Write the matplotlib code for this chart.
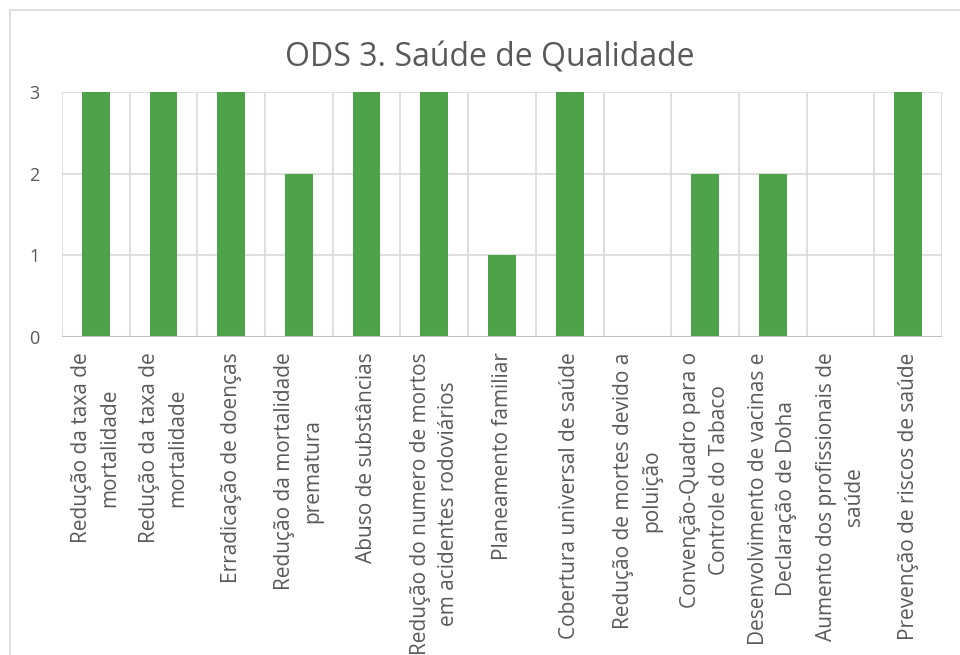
import matplotlib.pyplot as plt
from matplotlib.patches import Rectangle

categories = [
    "Redução da taxa de\nmortalidade",
    "Redução da taxa de\nmortalidade",
    "Erradicação de doenças",
    "Redução da mortalidade\nprematura",
    "Abuso de substâncias",
    "Redução do numero de mortos\nem acidentes rodoviários",
    "Planeamento familiar",
    "Cobertura universal de saúde",
    "Redução de mortes devido a\npoluição",
    "Convenção-Quadro para o\nControle do Tabaco",
    "Desenvolvimento de vacinas e\nDeclaração de Doha",
    "Aumento dos profissionais de\nsaúde",
    "Prevenção de riscos de saúde",
]
values = [3, 3, 3, 2, 3, 3, 1, 3, 0, 2, 2, 0, 3]
yticks = [0, 1, 2, 3]

plt.rcParams['font.family'] = ['Open Sans', 'DejaVu Sans']
grid_col = '#d9d9d9'
text_col = '#595959'

fig = plt.figure(figsize=(9.6, 6.55), dpi=100)

# chart border (Excel style)
fig.patches.append(Rectangle((10 / 960, -0.1), 1.1, 0.1 + (655 - 10) / 655,
                             transform=fig.transFigure, fill=False,
                             edgecolor=grid_col, linewidth=1.2))

ax = fig.add_axes([62 / 960, (655 - 337) / 655, 880 / 960, 245 / 655])
x = range(len(categories))
ax.bar(x, values, width=0.41, color='#4ea34a', zorder=3)

ax.set_xlim(-0.5, len(categories) - 0.5)
ax.set_ylim(0, 3)
ax.set_yticks(yticks)
ax.set_yticklabels([str(v) for v in yticks], fontsize=13, color=text_col)

# horizontal gridlines
for v in yticks[1:]:
    ax.axhline(v, color=grid_col, linewidth=1.2, zorder=1)
# vertical gridlines between categories
for b in range(len(categories) + 1):
    ax.axvline(b - 0.5, color=grid_col, linewidth=1.2, zorder=1)

for s in ax.spines.values():
    s.set_visible(False)
ax.axhline(0, color='#bfbfbf', linewidth=1.5, zorder=4)

ax.set_xticks(list(x))
ax.set_xticklabels(categories, rotation=90, ha='center', va='top',
                   multialignment='center', fontsize=15, color=text_col,
                   linespacing=1.45)
ax.tick_params(axis='both', length=0)
ax.tick_params(axis='x', pad=11)
ax.tick_params(axis='y', pad=16)

fig.text(490 / 960, (655 - 67) / 655, "ODS 3. Saúde de Qualidade",
         ha='center', va='baseline', fontsize=23, color=text_col)

fig.savefig('out.png', dpi=100)
